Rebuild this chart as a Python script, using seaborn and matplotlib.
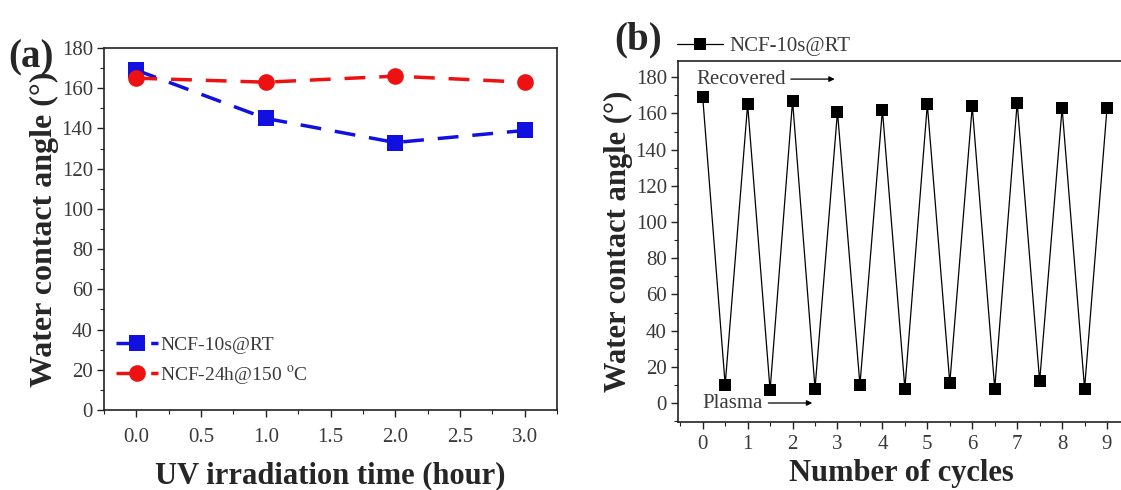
import numpy as np
import pandas as pd
import matplotlib
matplotlib.use("Agg")
import matplotlib.pyplot as plt
from matplotlib.ticker import MultipleLocator
import seaborn as sns

# ---- data ----
uv_time = [0.0, 1.0, 2.0, 3.0]
rt_angle = [169, 145, 133, 139]
heat_angle = [165, 163, 166, 163]

cycles = [0, 0.5, 1, 1.5, 2, 2.5, 3, 3.5, 4, 4.5, 5, 5.5, 6, 6.5, 7, 7.5, 8, 8.5, 9]
cycle_angle = [169, 10, 165, 7, 167, 8, 161, 10, 162, 8, 165, 11, 164, 8, 166, 12, 163, 8, 163]

sns.set_theme(style="ticks")
plt.rcParams['font.family'] = ['Liberation Serif', 'DejaVu Serif']
plt.rcParams['mathtext.fontset'] = 'stix'

fig = plt.figure(figsize=(11.21, 4.9), dpi=100)
W, H = 1121, 490
axa = fig.add_axes([104 / W, (H - 410) / H, (557 - 104) / W, (410 - 48) / H])
axb = fig.add_axes([678 / W, (H - 422) / H, (1125 - 678) / W, (422 - 61) / H])

tick_col = '#3a3a3a'

# ---- panel (a) ----
sns.lineplot(x=uv_time, y=rt_angle, ax=axa, color='#1010e0', marker='s', markersize=11,
             linestyle=(0, (6, 4)), linewidth=2.5, markeredgewidth=0, label='NCF-10s@RT')
sns.lineplot(x=uv_time, y=heat_angle, ax=axa, color='#ee1111', marker='o', markersize=12,
             linestyle=(0, (6, 4)), linewidth=2.5, markeredgewidth=0, label='NCF-24h@150 $^{\\rm o}$C')
axa.set_xlim(-0.25, 3.25)
axa.set_ylim(0, 180)
axa.xaxis.set_major_locator(MultipleLocator(0.5))
axa.xaxis.set_minor_locator(MultipleLocator(0.25))
axa.yaxis.set_major_locator(MultipleLocator(20))
axa.yaxis.set_minor_locator(MultipleLocator(10))
axa.set_xticks([0.0, 0.5, 1.0, 1.5, 2.0, 2.5, 3.0])
axa.set_xticklabels(['0.0', '0.5', '1.0', '1.5', '2.0', '2.5', '3.0'])
axa.set_xlabel('UV irradiation time (hour)', fontsize=22, fontweight='bold', labelpad=10)
axa.set_ylabel('Water contact angle (°)', fontsize=23, fontweight='bold', labelpad=2)
leg = axa.legend(loc='lower left', bbox_to_anchor=(0.0, 0.032), frameon=False, fontsize=14,
                 handlelength=2.2, handletextpad=0.1, labelspacing=0.5, borderaxespad=0.2)
for t in leg.get_texts():
    t.set_color(tick_col)
fig.text(8 / W, (H - 58) / H, '(a)', fontsize=28, fontweight='bold', ha='left', va='center')

# ---- panel (b) ----
sns.lineplot(x=cycles, y=cycle_angle, ax=axb, color='black', marker='s', markersize=8,
             linewidth=0.9, markeredgewidth=0, label='NCF-10s@RT')
axb.set_xlim(-0.55, 9.4)
axb.set_ylim(-10.5, 189)
axb.xaxis.set_major_locator(MultipleLocator(1))
axb.xaxis.set_minor_locator(MultipleLocator(0.5))
axb.yaxis.set_major_locator(MultipleLocator(20))
axb.yaxis.set_minor_locator(MultipleLocator(10))
axb.set_yticks(np.arange(0, 181, 20))
axb.set_xlabel('Number of cycles', fontsize=22, fontweight='bold', labelpad=4)
axb.set_ylabel('Water contact angle (°)', fontsize=22, fontweight='bold', labelpad=2)
leg2 = axb.legend(loc='lower left', bbox_to_anchor=(-0.02, 0.99), frameon=False, fontsize=15,
                  handlelength=2.2, handletextpad=0.3, borderaxespad=0.0)
for t in leg2.get_texts():
    t.set_color(tick_col)
axb.annotate('', xy=(3.0, 179), xytext=(1.9, 179),
             arrowprops=dict(arrowstyle='-|>', color='black', lw=0.9, mutation_scale=8))
axb.text(-0.13, 179, 'Recovered', fontsize=15, color=tick_col, va='center', ha='left')
axb.annotate('', xy=(2.5, 0), xytext=(1.4, 0),
             arrowprops=dict(arrowstyle='-|>', color='black', lw=0.9, mutation_scale=8))
axb.text(0.0, 0, 'Plasma', fontsize=15, color=tick_col, va='center', ha='left')
fig.text(614 / W, (H - 40) / H, '(b)', fontsize=28, fontweight='bold', ha='left', va='center')

for ax in (axa, axb):
    for s in ax.spines.values():
        s.set_linewidth(1.2)
        s.set_color('#222222')
    ax.tick_params(axis='both', which='major', direction='out', length=5, width=1,
                   labelsize=15, labelcolor=tick_col, color='#222222', pad=3)
    ax.tick_params(axis='both', which='minor', direction='out', length=3, width=0.8,
                   color='#222222')
axa.tick_params(axis='x', which='major', pad=8)
axb.tick_params(axis='x', which='major', pad=4)
axb.spines['right'].set_visible(False)

fig.savefig('out.png', dpi=100)
